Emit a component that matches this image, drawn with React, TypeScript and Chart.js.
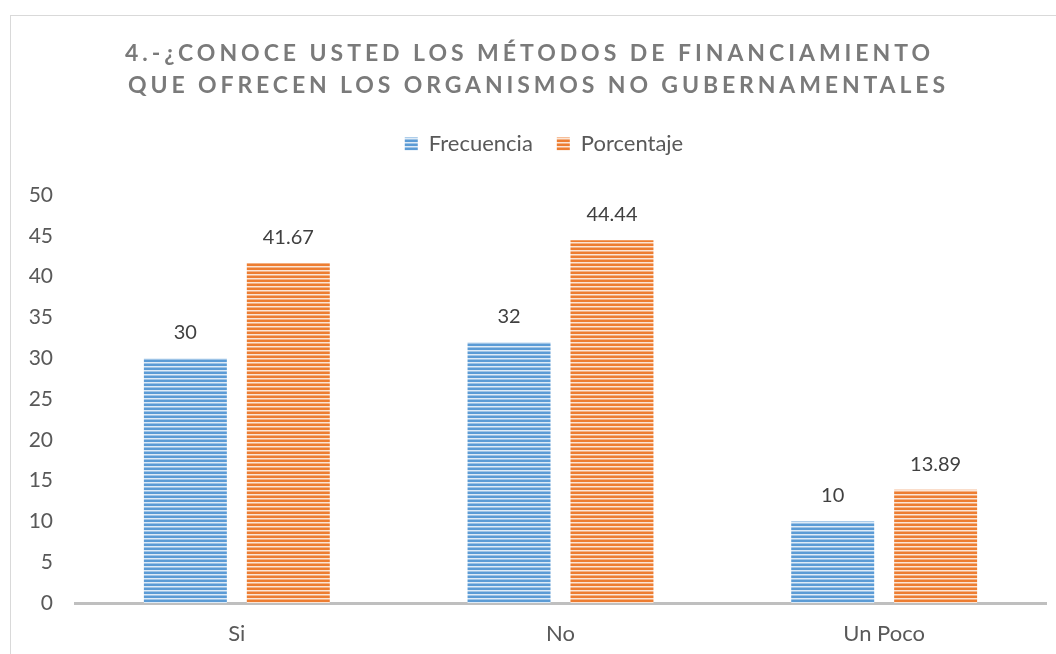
import React, { useEffect, useRef } from "react";
import { Chart, registerables } from "chart.js";

Chart.register(...registerables);

const categories = ["Si", "No", "Un Poco"];
const frecuencia = [30, 32, 10];
const porcentaje = [41.67, 44.44, 13.89];
const seriesNames = ["Frecuencia", "Porcentaje"];
const titleLines = [
  "4.-¿CONOCE USTED LOS MÉTODOS DE FINANCIAMIENTO",
  "QUE OFRECEN LOS ORGANISMOS NO GUBERNAMENTALES",
];
const yMin = 0;
const yMax = 50;
const yStep = 5;

function stripePattern(dark: string, mid: string, light: string): CanvasPattern | string {
  const c = document.createElement("canvas");
  c.width = 4;
  c.height = 4;
  const ctx = c.getContext("2d");
  if (!ctx) return dark;
  ctx.fillStyle = dark;
  ctx.fillRect(0, 0, 4, 2);
  ctx.fillStyle = light;
  ctx.fillRect(0, 2, 4, 1);
  ctx.fillStyle = mid;
  ctx.fillRect(0, 3, 4, 1);
  const p = ctx.createPattern(c, "repeat");
  return p || dark;
}

const FONT = "Lato, 'Open Sans', sans-serif";
const LEGEND_SHIFT_Y = 30;
const LEGEND_SHIFT_X = 10;

export default function App() {
  const ref = useRef<HTMLCanvasElement | null>(null);

  useEffect(() => {
    document.body.style.margin = "0";
    const canvas = ref.current;
    if (!canvas) return;

    const blue = stripePattern("#5B9BD5", "#9DC3E6", "#DEEBF7");
    const orange = stripePattern("#ED7D31", "#F4B183", "#FBE5D6");

    const framePlugin = {
      id: "frame",
      afterLayout(chart: any) {
        const lg = chart.legend;
        if (lg) {
          lg.top -= LEGEND_SHIFT_Y;
          lg.bottom -= LEGEND_SHIFT_Y;
          lg.left += LEGEND_SHIFT_X;
          lg.right += LEGEND_SHIFT_X;
        }
      },
      beforeDraw(chart: any) {
        const ctx = chart.ctx;
        ctx.save();
        ctx.fillStyle = "#ffffff";
        ctx.fillRect(0, 0, chart.width, chart.height);
        ctx.strokeStyle = "#d9d9d9";
        ctx.lineWidth = 1;
        ctx.strokeRect(10.5, 15.5, chart.width + 20, chart.height + 20);
        ctx.restore();
      },
      afterDraw(chart: any) {
        const ctx = chart.ctx;
        ctx.save();
        ctx.font = `bold 23px ${FONT}`;
        ctx.fillStyle = "#7a7a7a";
        ctx.textBaseline = "alphabetic";
        ctx.textAlign = "left";
        const targets = [
          { x: 125, w: 805, y: 61 },
          { x: 128, w: 817, y: 93 },
        ];
        titleLines.forEach((line, i) => {
          const t = targets[i];
          (ctx as any).letterSpacing = "0px";
          const raw = ctx.measureText(line).width;
          const n = Array.from(line).length;
          const ls = (t.w - raw) / (n - 1);
          (ctx as any).letterSpacing = `${ls}px`;
          ctx.fillText(line, t.x, t.y);
        });
        (ctx as any).letterSpacing = "0px";
        ctx.restore();
      },
    };

    const labelPlugin = {
      id: "valueLabels",
      afterDatasetsDraw(chart: any) {
        const ctx = chart.ctx;
        ctx.save();
        ctx.font = `20px ${FONT}`;
        ctx.fillStyle = "#404040";
        ctx.textAlign = "center";
        ctx.textBaseline = "alphabetic";
        chart.data.datasets.forEach((ds: any, di: number) => {
          const meta = chart.getDatasetMeta(di);
          meta.data.forEach((el: any, i: number) => {
            const v = ds.data[i];
            ctx.fillText(String(v), el.x, el.y - 19);
          });
        });
        ctx.restore();
      },
    };

    const chart = new Chart(canvas, {
      type: "bar",
      data: {
        labels: categories,
        datasets: [
          {
            label: seriesNames[0],
            data: frecuencia,
            backgroundColor: blue as any,
            borderWidth: 0,
            barPercentage: 0.806,
            categoryPercentage: 0.636,
          },
          {
            label: seriesNames[1],
            data: porcentaje,
            backgroundColor: orange as any,
            borderWidth: 0,
            barPercentage: 0.806,
            categoryPercentage: 0.636,
          },
        ],
      },
      options: {
        animation: false,
        responsive: false,
        maintainAspectRatio: false,
        layout: { padding: { top: 139, left: 22, right: 10, bottom: 0 } },
        plugins: {
          title: { display: false },
          tooltip: { enabled: false },
          legend: {
            display: true,
            position: "top",
            labels: {
              boxWidth: 13,
              boxHeight: 13,
              padding: 24,
              color: "#595959",
              font: { family: FONT, size: 22 },
            },
          },
        },
        scales: {
          x: {
            grid: { display: false, drawTicks: false },
            border: { display: true, color: "#bfbfbf", width: 3 },
            afterFit(scale: any) {
              scale.height = 51;
            },
            ticks: {
              color: "#595959",
              font: { family: FONT, size: 22 },
              padding: 18,
            },
          },
          y: {
            min: yMin,
            max: yMax,
            grid: { display: false, drawTicks: false },
            border: { display: false },
            afterFit(scale: any) {
              scale.width = 53;
            },
            ticks: {
              stepSize: yStep,
              color: "#595959",
              font: { family: FONT, size: 21 },
              padding: 22,
            },
          },
        },
      },
      plugins: [framePlugin, labelPlugin],
    });

    return () => chart.destroy();
  }, []);

  return (
    <div style={{ width: 1056, height: 654, position: "relative" }}>
      <canvas ref={ref} width={1056} height={654} style={{ display: "block" }} />
    </div>
  );
}
